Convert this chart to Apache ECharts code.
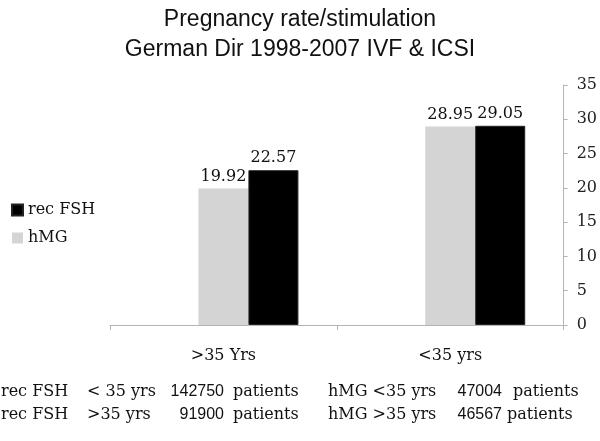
<!DOCTYPE html>
<html><head><meta charset="utf-8">
<script src="https://cdn.jsdelivr.net/npm/echarts@6/dist/echarts.min.js"></script>
<style>html,body{margin:0;padding:0;background:#fff}#c{width:600px;height:441px}</style>
</head><body><div id="c"></div>
<script>
var categories = ['>35 Yrs', '<35 yrs'];
var hMG = [19.92, 28.95];
var recFSH = [22.57, 29.05];
var pad = [null, null];
var yTicks = [0, 5, 10, 15, 20, 25, 30, 35];
var titleLines = ['Pregnancy rate/stimulation', 'German Dir 1998-2007 IVF & ICSI'];
var footRow1 = ['rec FSH', '< 35 yrs', '142750', 'patients', 'hMG <35 yrs', '47004', 'patients'];
var footRow2 = ['rec FSH', '>35 yrs', '91900', 'patients', 'hMG >35 yrs', '46567', 'patients'];

var serif = '"DejaVu Serif", serif';
var sans = '"Liberation Sans", Arial, sans-serif';
var chart = echarts.init(document.getElementById('c'));

var colX = [1, 87, 224, 233, 328, 502, 513];
var colX2 = [1, 87, 224, 233, 328, 502, 507];
function addRow(row, xs, y) {
  var out = [];
  row.forEach(function (t, i) {
    var isNum = (i === 2 || i === 5);
    out.push({ type: 'text', x: xs[i], y: y,
      style: { text: t, font: (isNum ? '16px ' + sans : '16px ' + serif), fill: '#111',
               align: isNum ? 'right' : 'left', verticalAlign: 'middle' } });
  });
  return out;
}
var graphics = addRow(footRow1, colX, 392).concat(addRow(footRow2, colX2, 415));

chart.setOption({
  animation: false,
  backgroundColor: '#fff',
  title: {
    text: titleLines.join('\n'), left: 'center', top: 0,
    textStyle: { fontFamily: sans, fontSize: 23, fontWeight: 'normal', color: '#111', lineHeight: 30 }
  },
  legend: {
    data: ['rec FSH', 'hMG'], orient: 'vertical', left: 6, top: 197, itemWidth: 11, itemHeight: 11, itemGap: 12,
    icon: 'rect', textStyle: { fontFamily: serif, fontSize: 16, color: '#111' }
  },
  grid: { left: 110, right: 35, top: 85, bottom: 116 },
  xAxis: {
    type: 'category', data: categories,
    axisLine: { lineStyle: { color: '#b4b4b4', width: 1 } },
    axisTick: { show: true, length: 5, lineStyle: { color: '#b4b4b4' } },
    axisLabel: { fontFamily: serif, fontSize: 16, color: '#111', margin: 23 }
  },
  yAxis: {
    type: 'value', position: 'right', min: 0, max: 35, interval: 5,
    axisLine: { show: true, lineStyle: { color: '#b4b4b4' } },
    axisTick: { show: true, length: 4, lineStyle: { color: '#b4b4b4' } },
    axisLabel: { fontFamily: serif, fontSize: 16, color: '#222', margin: 13 },
    splitLine: { show: false }
  },
  series: [
    { name: 'pad', type: 'bar', data: pad, barWidth: 50, barGap: '0%', itemStyle: { color: 'rgba(0,0,0,0)' } },
    { name: 'hMG', type: 'bar', data: hMG, barWidth: 50, barGap: '0%', itemStyle: { color: '#d4d4d4' },
      label: { show: true, position: 'top', distance: 4, fontFamily: serif, fontSize: 16, color: '#111' } },
    { name: 'rec FSH', type: 'bar', data: recFSH, barWidth: 50, barGap: '0%', itemStyle: { color: '#000', borderColor: '#222', borderWidth: 1 },
      label: { show: true, position: 'top', distance: 4, fontFamily: serif, fontSize: 16, color: '#111' } }
  ],
  graphic: graphics
});
</script></body></html>
